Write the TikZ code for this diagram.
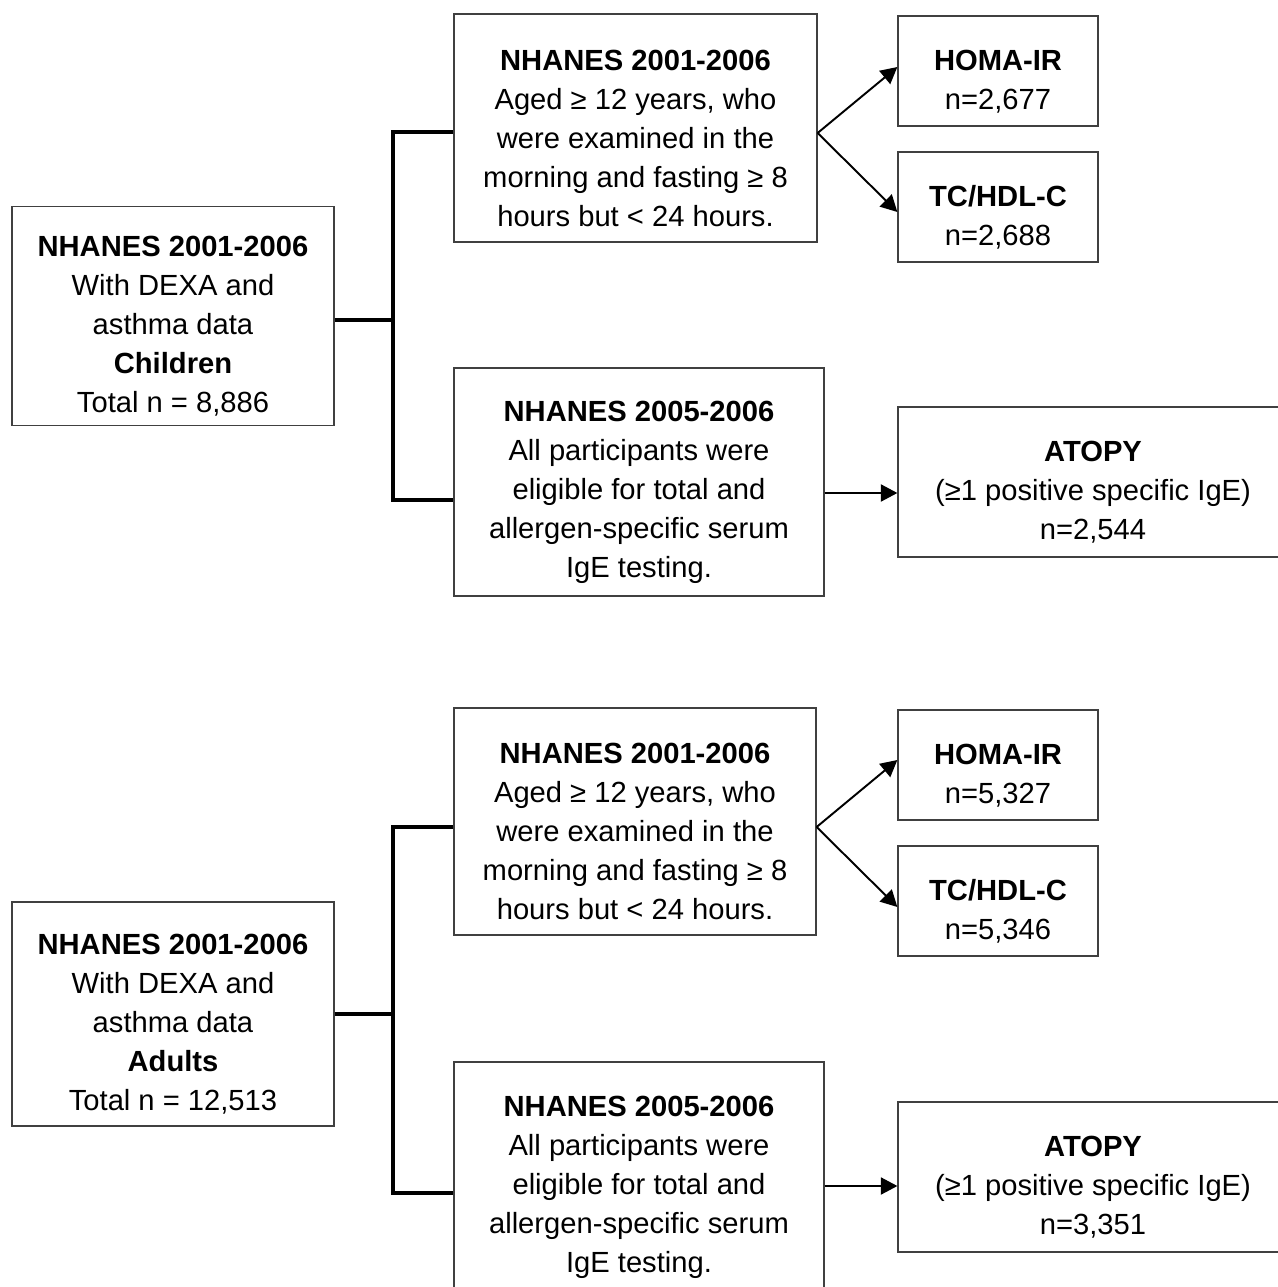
\documentclass[tikz,border=0pt]{standalone}
\usepackage{fontspec}
\setmainfont{Liberation Sans}
\usetikzlibrary{arrows.meta}
\newcommand{\boxfont}{\fontsize{16.6}{22.2}\selectfont}
% bold first line, with a taller strut so the text sits a bit low in its box
\newcommand{\hd}[1]{\rule{0pt}{0.82cm}\textbf{#1}}

\begin{document}
\begin{tikzpicture}[x=0.02cm,y=-0.02cm]
\tikzstyle{every node}+=[inner sep=0pt]
\tikzstyle{box}=[draw=black!75, line width=0.75pt, align=center, font=\boxfont]
\tikzstyle{branch}=[line width=1.9pt]
\tikzstyle{arr}=[line width=1.1pt, -{Triangle[length=0.33cm,width=0.34cm]}]
\useasboundingbox (0,0) rectangle (1277,1287);
% children
\node[box, minimum width=6.44cm, minimum height=4.38cm] (leftC) at (173,316)
  {\hd{NHANES 2001-2006}\\With DEXA and\\asthma data\\\textbf{Children}\\Total n = 8,886};
\node[box, minimum width=7.26cm, minimum height=4.56cm] (C1) at (635.5,128)
  {\hd{NHANES 2001-2006}\\Aged ≥ 12 years, who\\were examined in the\\morning and fasting ≥ 8\\hours but < 24 hours.};
\node[box, minimum width=4cm, minimum height=2.2cm] (C1a) at (998,71)
  {\hd{HOMA-IR}\\n=2,677};
\node[box, minimum width=4cm, minimum height=2.2cm] (C1b) at (998,207)
  {\hd{TC/HDL-C}\\n=2,688};
\node[box, minimum width=7.4cm, minimum height=4.56cm] (C2) at (639,482)
  {\hd{NHANES 2005-2006}\\All participants were\\eligible for total and\\allergen-specific serum\\IgE testing.};
\node[box, minimum width=7.8cm, minimum height=3cm] (C2a) at (1093,482)
  {\hd{ATOPY}\\(≥1 positive specific IgE)\\n=2,544};
\coordinate (jC) at (393,320);
\draw[branch] (leftC.east |- jC) -- (jC);
\draw[branch] ([yshift=-0.08cm]C1.west) -| (jC) |- ([yshift=-0.36cm]C2.west);
\draw[arr] ([yshift=-0.1cm]C1.east) -- ([yshift=0.08cm]C1a.west);
\draw[arr] ([yshift=-0.1cm]C1.east) -- ([yshift=-0.1cm]C1b.west);
\draw[arr] ([yshift=-0.22cm]C2.east) -- ([yshift=-0.22cm]C2a.west);
% adults
\node[box, minimum width=6.44cm, minimum height=4.48cm] (leftA) at (173,1014)
  {\hd{NHANES 2001-2006}\\With DEXA and\\asthma data\\\textbf{Adults}\\Total n = 12,513};
\node[box, minimum width=7.24cm, minimum height=4.54cm] (A1) at (635,821.5)
  {\hd{NHANES 2001-2006}\\Aged ≥ 12 years, who\\were examined in the\\morning and fasting ≥ 8\\hours but < 24 hours.};
\node[box, minimum width=4cm, minimum height=2.2cm] (A1a) at (998,765)
  {\hd{HOMA-IR}\\n=5,327};
\node[box, minimum width=4cm, minimum height=2.2cm] (A1b) at (998,901)
  {\hd{TC/HDL-C}\\n=5,346};
\node[box, minimum width=7.4cm, minimum height=4.6cm] (A2) at (639,1177)
  {\hd{NHANES 2005-2006}\\All participants were\\eligible for total and\\allergen-specific serum\\IgE testing.};
\node[box, minimum width=7.8cm, minimum height=3cm] (A2a) at (1093,1177)
  {\hd{ATOPY}\\(≥1 positive specific IgE)\\n=3,351};
\coordinate (jA) at (393,1014);
\draw[branch] (leftA.east |- jA) -- (jA);
\draw[branch] ([yshift=-0.11cm]A1.west) -| (jA) |- ([yshift=-0.32cm]A2.west);
\draw[arr] ([yshift=-0.11cm]A1.east) -- ([yshift=0.1cm]A1a.west);
\draw[arr] ([yshift=-0.11cm]A1.east) -- ([yshift=-0.12cm]A1b.west);
\draw[arr] ([yshift=-0.18cm]A2.east) -- ([yshift=-0.18cm]A2a.west);
\end{tikzpicture}
\end{document}
